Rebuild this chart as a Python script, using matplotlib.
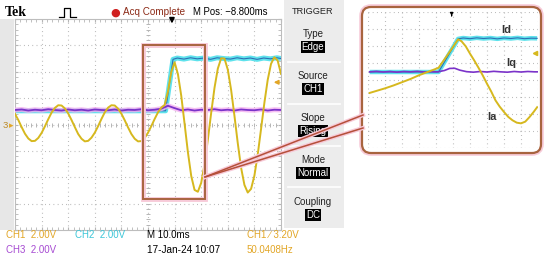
import matplotlib
matplotlib.use("Agg")
import matplotlib.pyplot as plt
from matplotlib.patches import Rectangle, FancyBboxPatch
from matplotlib.lines import Line2D
from matplotlib.transforms import IdentityTransform
from matplotlib.ticker import MultipleLocator

W, H = 550, 263

# --- Data ----------------------------------------------------------
# main screen: time in ms from the left edge (10 ms/div), level in divisions

# CH1 - Ia (phase current)
ia_t = [0, 1.25, 2.5, 3.75, 5, 6.25, 7.5, 8.75, 10, 11.25,
        12.5, 13.75, 15, 16.25, 17.5, 18.75, 20, 21.25, 22.5, 23.75,
        25, 26.25, 27.5, 28.75, 30, 31.25, 32.5, 33.75, 35, 36.25,
        37.5, 38.75, 40, 41.25, 42.5, 43.75, 45, 46.25, 47.5, 48.75,
        50, 51.25, 52.5, 53.75, 55, 56.25, 57.5, 58.75, 60, 61.25,
        62.5, 63.75, 65, 66.25, 67.5, 68.75, 70, 71.25, 72.5, 73.75,
        75, 76.25, 77.5, 78.75, 80, 81.25, 82.5, 83.75, 85, 86.25,
        87.5, 88.75, 90, 91.25, 92.5, 93.75, 95, 96.25, 97.5, 98.75,
        100]
ia_v = [0.40, 0.17, -0.10, -0.35, -0.53, -0.63, -0.62, -0.51, -0.32, -0.07,
        0.20, 0.45, 0.63, 0.73, 0.72, 0.61, 0.42, 0.17, -0.10, -0.36,
        -0.54, -0.64, -0.62, -0.50, -0.31, -0.06, 0.21, 0.46, 0.64, 0.73,
        0.72, 0.60, 0.41, 0.16, -0.11, -0.36, -0.54, -0.64, -0.63, -0.51,
        -0.31, -0.06, 0.21, 0.46, 0.64, 0.74, 1.25, 1.99, 2.36, 1.91,
        1.09, 0.03, -1.05, -1.95, -2.48, -2.55, -2.21, -1.51, -0.58, 0.44,
        1.39, 2.12, 2.51, 2.50, 2.08, 1.31, 0.33, -0.71, -1.64, -2.29,
        -2.58, -2.44, -1.94, -1.14, -0.17, 0.82, 1.69, 2.30, 2.55, 2.42,
        1.92]

# CH3 - Iq
iq_t = [0, 2.5, 5, 7.5, 10, 12.5, 15, 17.5, 20, 22.5,
        25, 27.5, 30, 32.5, 35, 37.5, 40, 42.5, 45, 47.5,
        50, 52.5, 55, 57.5, 60, 62.5, 65, 67.5, 70, 72.5,
        75, 77.5, 80, 82.5, 85, 87.5, 90, 92.5, 95, 97.5,
        100]
iq_v = [0.55, 0.57, 0.53, 0.56, 0.54, 0.58, 0.55, 0.53, 0.57, 0.54,
        0.56, 0.53, 0.57, 0.55, 0.54, 0.57, 0.53, 0.56, 0.55, 0.58,
        0.54, 0.56, 0.60, 0.71, 0.62, 0.54, 0.57, 0.53, 0.56, 0.55,
        0.58, 0.54, 0.56, 0.53, 0.57, 0.55, 0.54, 0.57, 0.53, 0.56,
        0.55]

# CH2 - Id
id_t = [0, 56.6, 59.4, 61, 63.5, 66, 68.5, 71, 73.5, 76,
        78.5, 81, 83.5, 86, 88.5, 91, 93.5, 96, 98.5, 100]
id_v = [0.52, 0.52, 2.47, 2.52, 2.48, 2.53, 2.49, 2.52, 2.47, 2.53,
        2.50, 2.48, 2.53, 2.49, 2.52, 2.47, 2.52, 2.49, 2.53, 2.50]

# zoomed view (its own divisions)
zia_x = [0.1, 0.5, 1.0, 1.5, 2.0, 2.5, 3.0, 3.5, 3.9, 4.15,
         4.5, 4.9, 5.3, 5.5, 5.75, 6.0, 6.25, 6.5, 6.75, 7.0,
         7.25, 7.5, 7.75, 8.0, 8.25, 8.5, 8.75, 9.0, 9.25, 9.5,
         9.75, 9.95]
zia_v = [-0.76, -0.64, -0.49, -0.32, -0.13, 0.06, 0.28, 0.47, 0.62, 0.72,
         1.22, 1.80, 2.39, 2.28, 1.98, 1.55, 1.15, 0.72, 0.27, -0.22,
         -0.68, -1.20, -1.57, -1.88, -2.17, -2.37, -2.51, -2.55, -2.45, -2.18,
         -1.87, -1.60]
ziq_x = [0.1, 0.5, 0.9, 1.3, 1.7, 2.1, 2.5, 2.9, 3.3, 3.7,
         4.1, 4.5, 4.8, 5.1, 5.4, 5.8, 6.2, 6.6, 7.0, 7.4,
         7.8, 8.2, 8.6, 9.0, 9.4, 9.8, 9.95]
ziq_v = [0.48, 0.51, 0.47, 0.50, 0.46, 0.50, 0.48, 0.51, 0.47, 0.49,
         0.48, 0.56, 0.68, 0.69, 0.58, 0.49, 0.46, 0.50, 0.47, 0.51,
         0.48, 0.46, 0.50, 0.47, 0.50, 0.48, 0.48]
zid_x = [0.1, 4.15, 5.3, 5.6, 6.0, 6.4, 6.8, 7.2, 7.6, 8.0,
         8.4, 8.8, 9.2, 9.6, 9.95]
zid_v = [0.47, 0.47, 2.42, 2.47, 2.43, 2.48, 2.44, 2.47, 2.42, 2.47,
         2.44, 2.48, 2.43, 2.46, 2.45]

trigger_items = [("Type", "Edge"), ("Source", "CH1"), ("Slope", "Rising"),
                 ("Mode", "Normal"), ("Coupling", "DC")]

YELLOW = "#d6b81e"
ORANGE = "#e2a626"
CYAN = "#5ee2ec"
BLUE = "#2f6fb4"
PURPLE = "#7b33c9"
HALO = "#f4b0f0"
BROWN = "#a8643f"
GLOW = "#f7cad8"
SANS = "Liberation Sans"


def fx(x):
    return x / W


def fy(y):
    return 1 - y / H


def dotted_grid(ax, xs, ys):
    for x in xs:
        ax.axvline(x, color="#a9a9a9", lw=0.8, ls=(0, (0.7, 3.1)), zorder=0)
    for y in ys:
        ax.axhline(y, color="#a9a9a9", lw=0.8, ls=(0, (0.7, 3.1)), zorder=0)


fig = plt.figure(figsize=(5.5, 2.63), dpi=100)
fig.patch.set_facecolor("white")

# side panels of the scope screen
fig.add_artist(Rectangle((0, fy(230)), fx(14), 211 / H, color="#e7e7e7", lw=0))
fig.add_artist(Rectangle((fx(284), fy(228)), fx(60), 228 / H, color="#ececec", lw=0))
for y in [61.7, 104, 145.7, 187.3]:
    fig.add_artist(Line2D([fx(288), fx(340)], [fy(y), fy(y)], color="white", lw=1.2))

# --- Main screen ----------------------------------------------------
ax = fig.add_axes([fx(15), fy(230), 266 / W, 211 / H])
ax.set_xlim(0, 100)
ax.set_ylim(-4, 4)
dotted_grid(ax, range(10, 100, 10), range(-3, 4))
ax.xaxis.set_major_locator(MultipleLocator(10))
ax.xaxis.set_minor_locator(MultipleLocator(2))
ax.yaxis.set_major_locator(MultipleLocator(1))
ax.yaxis.set_minor_locator(MultipleLocator(0.2))
ax.tick_params(which="both", direction="in", length=2.5, color="#b5b5b5",
               top=True, right=True, labelbottom=False, labelleft=False)
for s in ax.spines.values():
    s.set_color("#bdbdbd")
    s.set_linewidth(0.8)
# centre crosshair ticks
ax.plot([x / 5 for x in range(0, 501, 10)], [0] * 51, ls="none", marker="|",
        ms=3, color="#b5b5b5", mew=0.7)
ax.plot([50] * 41, [y / 5 - 4 for y in range(41)], ls="none", marker="_",
        ms=3, color="#b5b5b5", mew=0.7)

ax.plot(id_t, id_v, color=CYAN, lw=3.6, solid_capstyle="butt", zorder=2)
ax.plot(id_t, id_v, color=BLUE, lw=0.8, zorder=3)
ax.plot(iq_t, iq_v, color=HALO, lw=3.6, alpha=0.8, zorder=3)
ax.plot(iq_t, iq_v, color=PURPLE, lw=1.3, zorder=4)
ax.plot(ia_t, ia_v, color=YELLOW, lw=1.4, zorder=5)

# markers
ax.annotate("", xy=(59, 3.72), xytext=(59, 4.12), annotation_clip=False,
            arrowprops=dict(arrowstyle="-|>", color="black", lw=1.3, mutation_scale=7))
ax.annotate("", xy=(96.2, 1.6), xytext=(99.8, 1.6),
            arrowprops=dict(arrowstyle="-|>", color=ORANGE, lw=1.2, mutation_scale=6))
fig.text(fx(2.5), fy(125.5), "3", color="#b98a2a", fontsize=6.8, va="center",
         family=SANS)
fig.text(fx(8.5), fy(125.5), "\u25b8", color=ORANGE, fontsize=6.5, va="center")

# zoom window on the screen
ax.add_patch(Rectangle((48.2, -2.82), 23.2, 5.84, fill=False, ec=GLOW, lw=3.5,
                       zorder=6))
ax.add_patch(Rectangle((48.2, -2.82), 23.2, 5.84, fill=False, ec=BROWN, lw=1.4,
                       zorder=7))
for y_end in [115, 128]:
    fig.add_artist(Line2D([fx(205), fx(363)], [fy(177), fy(y_end)], color=GLOW,
                          lw=3.0, zorder=8))
for y_end in [115, 128]:
    fig.add_artist(Line2D([fx(205), fx(363)], [fy(177), fy(y_end)], color="#b5503a",
                          lw=1.1, zorder=9))

# --- Header & footer text ------------------------------------------
fig.text(fx(5), fy(12.5), "Tek", family="Liberation Serif", fontweight="bold",
         fontsize=10, va="center")
fig.add_artist(Line2D([fx(59), fx(64), fx(64), fx(70), fx(70), fx(76)],
                      [fy(16.5), fy(16.5), fy(8), fy(8), fy(16.5), fy(16.5)],
                      color="black", lw=0.9))
fig.text(fx(115), fy(12.3), "\u25cf", color="#d02020", fontsize=8,
         va="center", ha="center")
fig.text(fx(123), fy(12.3), "Acq Complete", color="#8c2a16", fontsize=7.1,
         va="center", family=SANS)
fig.text(fx(193), fy(12.3), "M Pos: \u22128.800ms", color="black", fontsize=6.9,
         va="center", family=SANS)
fig.text(fx(313), fy(12), "TRIGGER", color="#222222", fontsize=6.6,
         va="center", ha="center", family=SANS)
for i, (name, val) in enumerate(trigger_items):
    y0 = 34 + i * 42
    fig.text(fx(313), fy(y0), name, color="#222222", fontsize=7, va="center",
             ha="center", family=SANS)
    fig.text(fx(313), fy(y0 + 13), val, color="white", fontsize=7, va="center",
             ha="center", family=SANS,
             bbox=dict(facecolor="black", edgecolor="none", pad=0.8))

fig.text(fx(6), fy(235.5), "CH1  2.00V", color=ORANGE, fontsize=7, va="center",
         family=SANS)
fig.text(fx(75), fy(235.5), "CH2  2.00V", color="#3cc6d8", fontsize=7,
         va="center", family=SANS)
fig.text(fx(147), fy(235.5), "M 10.0ms", color="black", fontsize=7, va="center",
         family=SANS)
fig.text(fx(247), fy(235.5), "CH1 \u2215 3.20V", color=ORANGE, fontsize=7,
         va="center", family=SANS)
fig.text(fx(6), fy(250), "CH3  2.00V", color="#a64ad2", fontsize=7,
         va="center", family=SANS)
fig.text(fx(147), fy(250), "17-Jan-24 10:07", color="black",
         fontsize=7.2, va="center", family=SANS)
fig.text(fx(247), fy(250), "50.0408Hz", color=ORANGE, fontsize=7,
         va="center", family=SANS)

# --- Zoomed inset ----------------------------------------------------
fig.add_artist(FancyBboxPatch((362, H - 153), 179, 146,
                              boxstyle="round,pad=0,rounding_size=9",
                              transform=IdentityTransform(), fc="white",
                              ec=GLOW, lw=4, zorder=1))
fig.add_artist(FancyBboxPatch((362, H - 153), 179, 146,
                              boxstyle="round,pad=0,rounding_size=9",
                              transform=IdentityTransform(), fc="white",
                              ec=BROWN, lw=1.6, zorder=2))

axz = fig.add_axes([fx(368), fy(148), 170 / W, 136 / H], zorder=3)
axz.set_xlim(0, 10)
axz.set_ylim(-4, 4)
axz.set_facecolor("none")
axz.axis("off")
dotted_grid(axz, range(0, 11), range(-4, 5))
axz.plot(zid_x, zid_v, color=CYAN, lw=3.2, solid_capstyle="butt", zorder=2)
axz.plot(zid_x, zid_v, color=BLUE, lw=0.8, zorder=3)
axz.plot(ziq_x, ziq_v, color=PURPLE, lw=1.2, zorder=4)
axz.plot(zia_x, zia_v, color=YELLOW, lw=1.4, zorder=5)
axz.annotate("", xy=(4.92, 3.6), xytext=(4.92, 3.95),
             arrowprops=dict(arrowstyle="-|>", color="black", lw=0.9, mutation_scale=4))
axz.plot([9.82], [1.6], marker="<", ms=3, color=YELLOW, ls="none")
for lbl, x, y in [("Id", 8.16, 2.94), ("Iq", 8.45, 0.98), ("Ia", 7.28, -2.16)]:
    axz.text(x, y, lbl, fontsize=8, fontweight="bold", color="#333333",
             ha="center", va="center", family=SANS)

fig.savefig("out.png", dpi=100)
